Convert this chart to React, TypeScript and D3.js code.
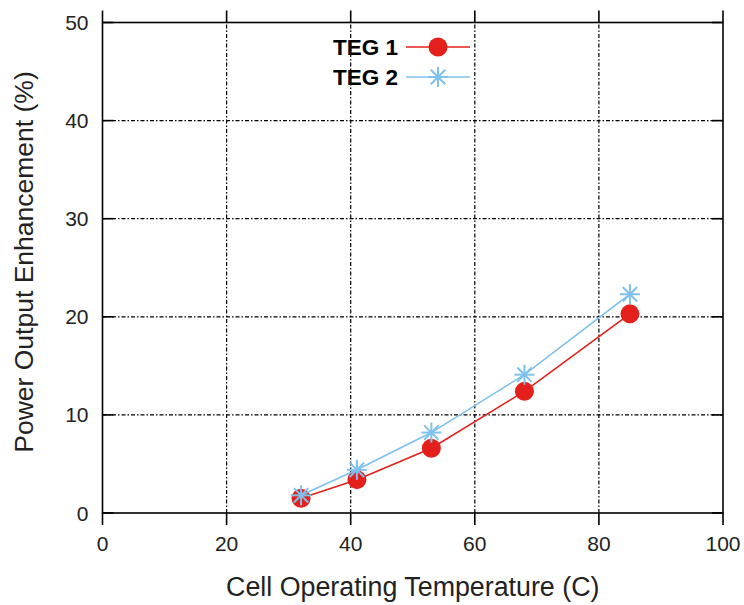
import React from "react";
import * as d3 from "d3";

const temperature = [32, 41, 53, 68, 85];
const teg1 = [1.5, 3.4, 6.6, 12.4, 20.3];
const teg2 = [1.8, 4.4, 8.2, 14.1, 22.3];
const xTicks = [0, 20, 40, 60, 80, 100];
const yTicks = [0, 10, 20, 30, 40, 50];

const RED = "#e3201b";
const BLUE = "#7fc0ec";

const App: React.FC = () => {
  const width = 744;
  const height = 605;
  const margin = { top: 22.5, right: 21, bottom: 92, left: 102.5 };

  const xScale = d3
    .scaleLinear()
    .domain([0, 100])
    .range([margin.left, width - margin.right]);
  const yScale = d3
    .scaleLinear()
    .domain([0, 50])
    .range([height - margin.bottom, margin.top]);

  const line = d3
    .line<[number, number]>()
    .x((d) => xScale(d[0]))
    .y((d) => yScale(d[1]));

  const pts1 = temperature.map((t, i) => [t, teg1[i]] as [number, number]);
  const pts2 = temperature.map((t, i) => [t, teg2[i]] as [number, number]);

  const x0 = xScale(0);
  const x1 = xScale(100);
  const y0 = yScale(0);
  const y1 = yScale(50);
  const font = "'Liberation Sans', Arial, sans-serif";

  // 星形マーカー（+ と x の組み合わせ）
  const star = (cx: number, cy: number, r: number, key: string) => {
    const d = r * 0.72;
    return (
      <g key={key} stroke={BLUE} strokeWidth={2}>
        <line x1={cx - r} y1={cy} x2={cx + r} y2={cy} />
        <line x1={cx} y1={cy - r} x2={cx} y2={cy + r} />
        <line x1={cx - d} y1={cy - d} x2={cx + d} y2={cy + d} />
        <line x1={cx - d} y1={cy + d} x2={cx + d} y2={cy - d} />
      </g>
    );
  };

  return (
    <svg
      width={width}
      height={height}
      style={{ position: "absolute", left: 0, top: 0, background: "#fff" }}
    >
      {/* グリッド */}
      <g stroke="#000" strokeWidth={1.2} strokeDasharray="4,2,1.5,2">
        {xTicks.slice(1, -1).map((t) => (
          <line key={"gx" + t} x1={xScale(t)} x2={xScale(t)} y1={y0} y2={y1} />
        ))}
        {yTicks.slice(1, -1).map((t) => (
          <line key={"gy" + t} x1={x0} x2={x1} y1={yScale(t)} y2={yScale(t)} />
        ))}
      </g>

      {/* 枠と目盛り */}
      <g stroke="#000" strokeWidth={1.6} fill="none">
        <rect x={x0} y={y1} width={x1 - x0} height={y0 - y1} />
        {xTicks.map((t) => (
          <g key={"tx" + t}>
            <line x1={xScale(t)} x2={xScale(t)} y1={y0} y2={y0 + 12} />
            <line x1={xScale(t)} x2={xScale(t)} y1={y1} y2={y1 - 12} />
          </g>
        ))}
        {yTicks.map((t) => (
          <g key={"ty" + t}>
            <line x1={x0} x2={x0 + 11} y1={yScale(t)} y2={yScale(t)} />
            <line x1={x1} x2={x1 - 11} y1={yScale(t)} y2={yScale(t)} />
          </g>
        ))}
      </g>

      {/* 目盛りラベル */}
      <g fontFamily={font} fontSize={21} fill="#222">
        {xTicks.map((t) => (
          <text key={"lx" + t} x={xScale(t)} y={y0 + 38} textAnchor="middle">
            {t}
          </text>
        ))}
        {yTicks.map((t) => (
          <text
            key={"ly" + t}
            x={x0 - 14}
            y={yScale(t)}
            dy="0.36em"
            textAnchor="end"
          >
            {t}
          </text>
        ))}
      </g>

      {/* 軸タイトル */}
      <text
        x={(x0 + x1) / 2}
        y={596}
        textAnchor="middle"
        fontFamily={font}
        fontSize={26.8}
        fill="#222"
      >
        Cell Operating Temperature (C)
      </text>
      <text
        transform={`translate(33,262) rotate(-90)`}
        textAnchor="middle"
        fontFamily={font}
        fontSize={26.5}
        fill="#222"
      >
        Power Output Enhancement (%)
      </text>

      {/* データ */}
      <path d={line(pts1) ?? ""} fill="none" stroke={RED} strokeWidth={1.6} />
      {pts1.map((d, i) => (
        <circle key={"c" + i} cx={xScale(d[0])} cy={yScale(d[1])} r={9.5} fill={RED} />
      ))}
      <path d={line(pts2) ?? ""} fill="none" stroke={BLUE} strokeWidth={1.6} />
      {pts2.map((d, i) => star(xScale(d[0]), yScale(d[1]), 10, "s" + i))}

      {/* 凡例 */}
      <g fontFamily={font} fontSize={22.5} fontWeight="bold" fill="#000">
        <text x={398} y={47} dy="0.36em" textAnchor="end">
          TEG 1
        </text>
        <text x={398} y={77} dy="0.36em" textAnchor="end">
          TEG 2
        </text>
      </g>
      <line x1={406} x2={470} y1={47} y2={47} stroke={RED} strokeWidth={1.6} />
      <circle cx={438} cy={47} r={9.5} fill={RED} />
      <line x1={406} x2={470} y1={77} y2={77} stroke={BLUE} strokeWidth={1.6} />
      {star(438, 77, 10, "legend-star")}
    </svg>
  );
};

export default App;
